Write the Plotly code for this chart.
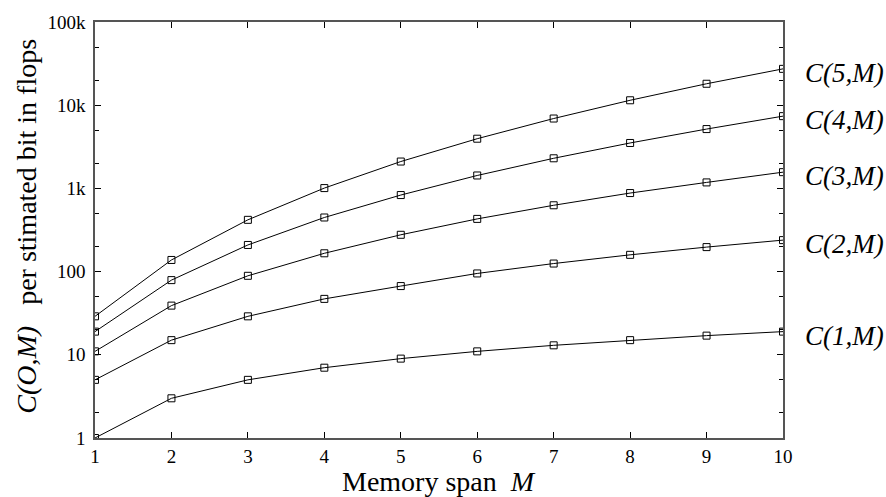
import plotly.graph_objects as go

# Memory span M
memory_span = [1, 2, 3, 4, 5, 6, 7, 8, 9, 10]

# Cost C(O,M) per stimated bit, in flops, for orders O = 1..5
cost_o1 = [1, 3, 5, 7, 9, 11, 13, 15, 17, 19]
cost_o2 = [5, 15, 29, 47, 67, 95, 125, 159, 197, 239]
cost_o3 = [11, 39, 89, 166, 277, 430, 627, 879, 1180, 1567]
cost_o4 = [19, 79, 209, 447, 832, 1430, 2301, 3515, 5165, 7385]
cost_o5 = [29, 138, 419, 1009, 2103, 3956, 6915, 11460, 18100, 27350]

series = [
    ("C(1,M)", cost_o1),
    ("C(2,M)", cost_o2),
    ("C(3,M)", cost_o3),
    ("C(4,M)", cost_o4),
    ("C(5,M)", cost_o5),
]

y_tick_vals = [1, 10, 100, 1000, 10000, 100000]
y_tick_text = ["1", "10", "100", "1k", "10k", "100k"]
y_minor_vals = [m * d for d in [1, 10, 100, 1000, 10000] for m in (2, 5)]

SERIF = "Liberation Serif, Times New Roman, serif"
AXIS_COLOR = "#555555"

fig = go.Figure()
for name, values in series:
    fig.add_trace(go.Scatter(
        x=memory_span, y=values, mode="lines+markers", name=name,
        line=dict(color="black", width=1),
        marker=dict(symbol="square-open", size=7, color="black",
                    line=dict(color="black", width=1)),
        showlegend=False,
    ))

# Series labels at the right end of each curve
for name, values in series:
    fig.add_annotation(
        x=1.029, xref="paper", xanchor="left",
        y=__import__("math").log10(values[-1]), yref="y", yanchor="middle",
        yshift=-4,
        text="<i>" + name + "</i>", showarrow=False,
        font=dict(family=SERIF, size=27, color="black"),
    )

# Axis titles
fig.add_annotation(
    x=0.5, xref="paper", xanchor="center",
    y=-0.105, yref="paper", yanchor="middle",
    text="Memory span\u00a0\u00a0<i>M</i>", showarrow=False,
    font=dict(family=SERIF, size=28, color="black"),
)
fig.add_annotation(
    x=-0.099, xref="paper", xanchor="center",
    y=0.51, yref="paper", yanchor="middle",
    textangle=-90,
    text="<i>C(O,M)</i>\u00a0\u00a0\u00a0per stimated bit in flops", showarrow=False,
    font=dict(family=SERIF, size=28, color="black"),
)

fig.update_xaxes(
    range=[1, 10], tickvals=memory_span,
    ticks="inside", ticklen=6, tickcolor="black", tickwidth=1,
    showline=True, linecolor=AXIS_COLOR, linewidth=1.5, mirror="ticks",
    showgrid=False, zeroline=False,
    tickfont=dict(family=SERIF, size=19, color="black"),
)
fig.update_yaxes(
    type="log", range=[0, 5],
    tickvals=y_tick_vals, ticktext=y_tick_text,
    ticks="inside", ticklen=6, tickcolor="black", tickwidth=1,
    minor=dict(tickvals=y_minor_vals, ticks="inside", ticklen=4,
               tickcolor="black", tickwidth=1, showgrid=False),
    showline=True, linecolor=AXIS_COLOR, linewidth=1.5, mirror="ticks",
    showgrid=False, zeroline=False,
    ticklabelstandoff=4,
    tickfont=dict(family=SERIF, size=19, color="black"),
)

fig.update_layout(
    width=886, height=497,
    margin=dict(l=95, r=103, t=20, b=59),
    plot_bgcolor="white", paper_bgcolor="white",
)

fig.write_html("out.html")
